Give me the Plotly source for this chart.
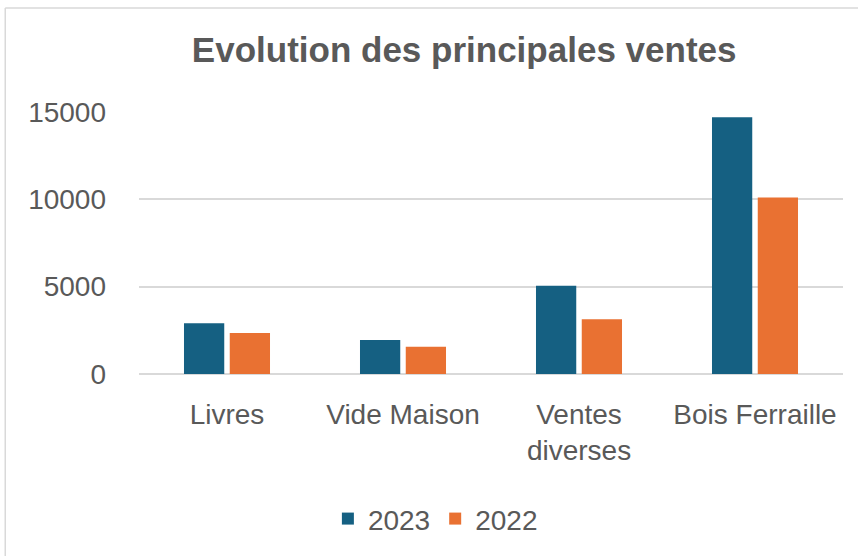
import plotly.graph_objects as go

categories = ["Livres", "Vide Maison", "Ventes<br>diverses", "Bois Ferraille"]
series_names = ["2023", "2022"]
values_2023 = [2900, 1950, 5050, 14700]
values_2022 = [2350, 1560, 3130, 10100]
colors = ["#156082", "#E97132"]
y_ticks = [0, 5000, 10000, 15000]
y_tick_text = ["0", "5000", "10000", "15000"]

fig = go.Figure()
for name, vals, col in zip(series_names, [values_2023, values_2022], colors):
    fig.add_trace(go.Bar(x=categories, y=vals, name=name, marker=dict(color=col, line=dict(width=0))))

font_family = "Liberation Sans, Arial, sans-serif"
fig.update_layout(
    width=858, height=556,
    margin=dict(l=139, r=15, t=112, b=182),
    paper_bgcolor="white", plot_bgcolor="white",
    barmode="group", bargap=0.48, bargroupgap=0.12,
    font=dict(family=font_family, size=28, color="#595959"),
    title=dict(text="<b>Evolution des principales ventes</b>", x=0.541, xanchor="center",
               y=0.91, yanchor="middle",
               font=dict(family="Liberation Sans, sans-serif", size=35, color="#595959")),
    showlegend=True,
    legend=dict(orientation="h", x=0.421, xanchor="center", y=-0.553, yanchor="middle",
                font=dict(size=28, color="#595959"), itemwidth=30, traceorder="normal"),
    xaxis=dict(showgrid=False, showline=False, ticks="", tickfont=dict(size=28, color="#595959"),
               ticklabelstandoff=21),
    yaxis=dict(range=[0, 15000], tickvals=y_ticks, ticktext=y_tick_text, showgrid=True,
               gridcolor="#d9d9d9", gridwidth=1.5,
               zeroline=True, zerolinecolor="#d9d9d9", zerolinewidth=1.5, showline=False,
               tickfont=dict(size=28, color="#595959"), ticklabelstandoff=32),
)
fig.add_shape(type="line", xref="paper", yref="paper", x0=-0.19, x1=1.03, y0=1.397, y1=1.397,
              line=dict(color="#d9d9d9", width=1.5))
fig.add_shape(type="line", xref="paper", yref="paper", x0=-0.19, x1=-0.19, y0=-0.7, y1=1.397,
              line=dict(color="#d9d9d9", width=1.5))
fig.write_html("out.html", config={"displayModeBar": False},
               post_script="document.body.style.margin='0';")
